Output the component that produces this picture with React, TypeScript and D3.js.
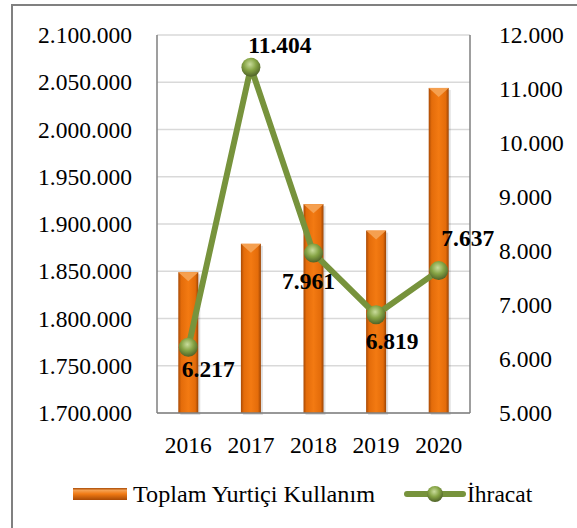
import React from "react";
import * as d3 from "d3";

const years = ["2016", "2017", "2018", "2019", "2020"];
const domesticUse = [1849000, 1879000, 1921000, 1893000, 2044000];
const exports = [6217, 11404, 7961, 6819, 7637];
const leftTicks = [1700000, 1750000, 1800000, 1850000, 1900000, 1950000, 2000000, 2050000, 2100000];
const rightTicks = [5000, 6000, 7000, 8000, 9000, 10000, 11000, 12000];
// label offsets relative to each point (dx, dy)
const labelOffsets = [[20, 21], [29, -22], [-5, 28], [16, 26], [29, -33]];

const W = 577;
const H = 528;
const margin = { left: 157, right: 107, top: 35, bottom: 115 };
const font = "'Liberation Serif', 'Times New Roman', serif";

const fmt = (v: number) => d3.format(",")(v).replace(/,/g, ".");

export default function App() {
  const innerW = W - margin.left - margin.right;
  const innerH = H - margin.top - margin.bottom;

  const x = d3.scaleBand().domain(years).range([0, innerW]);
  const yLeft = d3.scaleLinear().domain([1700000, 2100000]).range([innerH, 0]);
  const yRight = d3.scaleLinear().domain([5000, 12000]).range([innerH, 0]);
  const barW = 20;
  const cx = (d: string) => (x(d) as number) + x.bandwidth() / 2;

  const line = d3.line<number>()
    .x((_, i) => cx(years[i]))
    .y(d => yRight(d));

  return (
    <svg width={W} height={H} style={{ position: "absolute", left: 0, top: 0 }} fontFamily={font}>
      <defs>
        <linearGradient id="barGrad" x1="0" x2="1" y1="0" y2="0">
          <stop offset="0" stopColor="#a94a05" />
          <stop offset="0.15" stopColor="#e46c0a" />
          <stop offset="0.5" stopColor="#f37a12" />
          <stop offset="0.85" stopColor="#e46c0a" />
          <stop offset="1" stopColor="#9c4404" />
        </linearGradient>
        <linearGradient id="legGrad" x1="0" x2="0" y1="0" y2="1">
          <stop offset="0" stopColor="#a94a05" />
          <stop offset="0.2" stopColor="#f5a050" />
          <stop offset="0.5" stopColor="#f07a14" />
          <stop offset="1" stopColor="#a94a05" />
        </linearGradient>
        <radialGradient id="dotGrad" cx="0.45" cy="0.35" r="0.65">
          <stop offset="0" stopColor="#c9dc9c" />
          <stop offset="0.5" stopColor="#86a445" />
          <stop offset="1" stopColor="#4f6228" />
        </radialGradient>
      </defs>
      <rect x={12} y={5} width={W} height={H} fill="#fff" stroke="#808080" strokeWidth={2} />
      <g transform={`translate(${margin.left},${margin.top})`}>
        {leftTicks.map(t => (
          <g key={t}>
            <line x1={0} x2={innerW} y1={yLeft(t)} y2={yLeft(t)} stroke="#d9d9d9" strokeWidth={1.5} />
            <text x={-25} y={yLeft(t)} dy="0.35em" textAnchor="end" fontSize={23.5}>{fmt(t)}</text>
          </g>
        ))}
        {rightTicks.map(t => (
          <text key={t} x={innerW + 29} y={yRight(t)} dy="0.35em" textAnchor="start" fontSize={23.5}>{fmt(t)}</text>
        ))}
        {years.map((yr, i) => {
          const bx = cx(yr) - barW / 2;
          const by = yLeft(domesticUse[i]);
          return (
            <g key={yr}>
              <rect x={bx + 2} y={by + 2} width={barW} height={innerH - by} fill="#000" opacity={0.12} />
              <rect x={bx} y={by} width={barW} height={innerH - by} fill="url(#barGrad)" />
              <path d={`M${bx},${by}L${bx + barW},${by}L${bx + barW / 2},${by + 9}Z`} fill="#f5a050" />
              <text x={cx(yr)} y={innerH + 32} dy="0.35em" textAnchor="middle" fontSize={23.5}>{yr}</text>
            </g>
          );
        })}
        <line x1={0} x2={0} y1={0} y2={innerH} stroke="#7f7f7f" strokeWidth={1.5} />
        <line x1={innerW} x2={innerW} y1={0} y2={innerH} stroke="#7f7f7f" strokeWidth={1.5} />
        <line x1={0} x2={innerW} y1={innerH} y2={innerH} stroke="#7f7f7f" strokeWidth={1.5} />
        <path d={line(exports) ?? ""} fill="none" stroke="#77933c" strokeWidth={6} strokeLinejoin="round" />
        {exports.map((v, i) => (
          <circle key={i} cx={cx(years[i])} cy={yRight(v)} r={9.5} fill="url(#dotGrad)" />
        ))}
        {exports.map((v, i) => (
          <text key={i} x={cx(years[i]) + labelOffsets[i][0]} y={yRight(v) + labelOffsets[i][1]} dy="0.35em"
            textAnchor="middle" fontSize={23.5} fontWeight="bold">{fmt(v)}</text>
        ))}
      </g>
      <g transform="translate(73,494)">
        <rect x={0} y={-6} width={54} height={12} fill="url(#legGrad)" />
        <text x={60} y={0} dy="0.35em" fontSize={23.5} textLength={242} lengthAdjust="spacingAndGlyphs">Toplam Yurtiçi Kullanım</text>
      </g>
      <g transform="translate(407,494)">
        <line x1={0} x2={56} y1={0} y2={0} stroke="#77933c" strokeWidth={6} strokeLinecap="round" />
        <circle cx={28} cy={0} r={8} fill="url(#dotGrad)" />
        <text x={60} y={0} dy="0.35em" fontSize={23.5}>İhracat</text>
      </g>
    </svg>
  );
}
